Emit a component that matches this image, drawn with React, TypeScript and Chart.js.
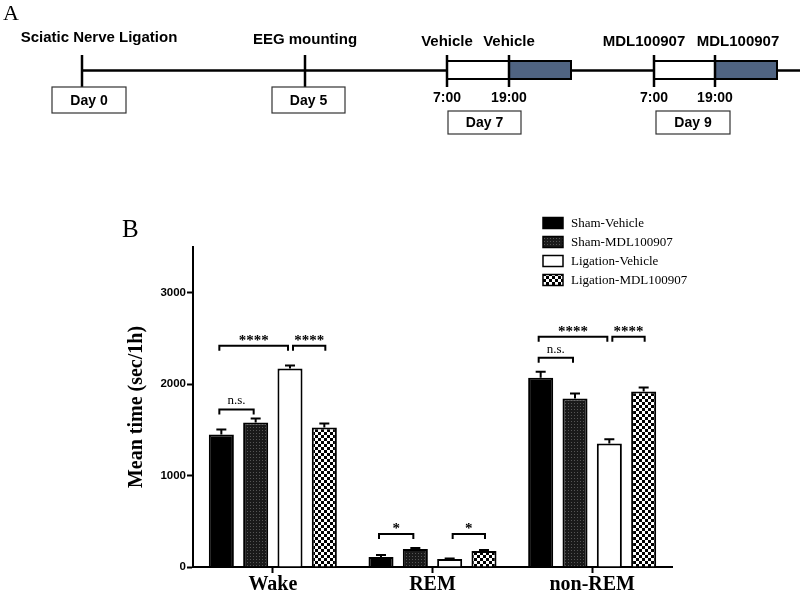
import React, { useEffect, useRef } from "react";
import { Chart, registerables } from "chart.js";

Chart.register(...registerables);

const categories = ["Wake", "REM", "non-REM"];
const seriesNames = ["Sham-Vehicle", "Sham-MDL100907", "Ligation-Vehicle", "Ligation-MDL100907"];
const shamVehicle = [1450, 110, 2070];
const shamMDL = [1580, 196, 1843];
const ligVehicle = [2170, 87, 1352];
const ligMDL = [1527, 175, 1919];
const shamVehicleErr = [55, 20, 65];
const shamMDLErr = [45, 11, 54];
const ligVehicleErr = [33, 6, 44];
const ligMDLErr = [43, 10, 44];
const yTicks = [0, 1000, 2000, 3000];

const sigCategory = [0, 0, 0, 1, 1, 2, 2, 2];
const sigFrom = [0, 0, 2, 0, 2, 0, 0, 2];
const sigTo = [1, 2, 3, 1, 3, 1, 2, 3];
const sigLevel = [1723, 2421, 2421, 360, 360, 2290, 2519, 2519];
const sigText = ["n.s.", "****", "****", "*", "*", "n.s.", "****", "****"];

const topLabels = ["Sciatic Nerve Ligation", "EEG mounting", "Vehicle", "Vehicle", "MDL100907", "MDL100907"];
const dayLabels = ["Day 0", "Day 5", "Day 7", "Day 9"];
const timeLabels = ["7:00", "19:00"];

function makePattern(kind: string): CanvasPattern | string {
  const c = document.createElement("canvas");
  const g = c.getContext("2d")!;
  if (kind === "dark") {
    c.width = 3; c.height = 3;
    g.fillStyle = "#1a1a1a"; g.fillRect(0, 0, 3, 3);
    g.fillStyle = "#555"; g.fillRect(1, 1, 1, 1);
  } else {
    c.width = 6; c.height = 6;
    g.fillStyle = "#fff"; g.fillRect(0, 0, 6, 6);
    g.fillStyle = "#000"; g.fillRect(0, 0, 3, 3); g.fillRect(3, 3, 3, 3);
  }
  return g.createPattern(c, "repeat") || "#000";
}

const panelPlugin = {
  id: "panelA",
  afterDraw(chart: any) {
    const ctx: CanvasRenderingContext2D = chart.ctx;
    const y = chart.scales.y;
    const errs = [shamVehicleErr, shamMDLErr, ligVehicleErr, ligMDLErr];
    ctx.save();
    // error bars
    ctx.strokeStyle = "#000";
    ctx.lineWidth = 2;
    chart.data.datasets.forEach((ds: any, i: number) => {
      const meta = chart.getDatasetMeta(i);
      meta.data.forEach((el: any, j: number) => {
        const top = y.getPixelForValue(ds.data[j] + errs[i][j]);
        ctx.beginPath();
        ctx.moveTo(el.x, el.y);
        ctx.lineTo(el.x, top);
        ctx.moveTo(el.x - 5, top);
        ctx.lineTo(el.x + 5, top);
        ctx.stroke();
      });
    });
    // significance brackets
    sigText.forEach((t, k) => {
      const c = sigCategory[k];
      const x1 = chart.getDatasetMeta(sigFrom[k]).data[c].x - 2 + (sigFrom[k] > 0 ? 5 : 0);
      const x2 = chart.getDatasetMeta(sigTo[k]).data[c].x - 2 + (sigTo[k] === 3 ? 3 : 0);
      const yy = y.getPixelForValue(sigLevel[k]);
      ctx.lineWidth = 2;
      ctx.beginPath();
      ctx.moveTo(x1, yy + 5);
      ctx.lineTo(x1, yy);
      ctx.lineTo(x2, yy);
      ctx.lineTo(x2, yy + 5);
      ctx.stroke();
      ctx.fillStyle = "#000";
      ctx.textAlign = "center";
      ctx.textBaseline = "alphabetic";
      if (t === "n.s.") {
        ctx.font = "13px 'Liberation Serif'";
        ctx.fillText(t, (x1 + x2) / 2, yy - 5);
      } else {
        ctx.font = "bold 15px 'Liberation Serif'";
        ctx.fillText(t, (x1 + x2) / 2, yy - 1);
      }
    });
    // legend
    chart.data.datasets.forEach((ds: any, i: number) => {
      const cy = 223 + i * 19;
      ctx.fillStyle = ds.backgroundColor;
      ctx.fillRect(543, cy - 5.5, 20, 11);
      ctx.lineWidth = 1.5;
      ctx.strokeStyle = "#000";
      ctx.strokeRect(543, cy - 5.5, 20, 11);
      ctx.fillStyle = "#000";
      ctx.font = "13px 'Liberation Serif'";
      ctx.textAlign = "left";
      ctx.textBaseline = "middle";
      ctx.fillText(ds.label, 571, cy + 1);
    });
    // panel labels
    ctx.textAlign = "left";
    ctx.textBaseline = "alphabetic";
    ctx.font = "22px 'Liberation Serif'";
    ctx.fillText("A", 3, 20);
    ctx.font = "25px 'Liberation Serif'";
    ctx.fillText("B", 122, 237);

    // Panel A timeline
    ctx.strokeStyle = "#000";
    ctx.lineWidth = 2.5;
    ctx.beginPath();
    ctx.moveTo(82, 70.5); ctx.lineTo(447, 70.5);
    ctx.moveTo(571, 70.5); ctx.lineTo(654, 70.5);
    ctx.moveTo(777, 70.5); ctx.lineTo(800, 70.5);
    ctx.stroke();
    const rects = [[447, 509, 571], [654, 715, 777]];
    rects.forEach(([a, b, c]) => {
      ctx.fillStyle = "#fff";
      ctx.fillRect(a, 61, b - a, 18);
      ctx.fillStyle = "#506482";
      ctx.fillRect(b, 61, c - b, 18);
      ctx.lineWidth = 2;
      ctx.strokeRect(a, 61, c - a, 18);
    });
    ctx.lineWidth = 2.5;
    [82, 305, 447, 509, 654, 715].forEach((tx) => {
      ctx.beginPath();
      ctx.moveTo(tx, 55); ctx.lineTo(tx, 87);
      ctx.stroke();
    });
    const boxes = [[52, 87, 74, 26], [272, 87, 73, 26], [448, 111, 73, 23], [656, 111, 74, 23]];
    ctx.lineWidth = 1.2;
    ctx.strokeStyle = "#333";
    ctx.fillStyle = "#000";
    ctx.font = "bold 14px 'Liberation Sans'";
    ctx.textAlign = "center";
    ctx.textBaseline = "middle";
    boxes.forEach(([bx, by, bw, bh], i) => {
      ctx.strokeRect(bx, by, bw, bh);
      ctx.fillText(dayLabels[i], bx + bw / 2, by + bh / 2 + 1);
    });
    [447, 654].forEach((tx) => ctx.fillText(timeLabels[0], tx, 98));
    [509, 715].forEach((tx) => ctx.fillText(timeLabels[1], tx, 98));
    ctx.font = "bold 15px 'Liberation Sans'";
    const tpos = [[99, 38], [305, 40], [447, 42], [509, 42], [644, 42], [738, 42]];
    topLabels.forEach((t, i) => ctx.fillText(t, tpos[i][0], tpos[i][1]));
    ctx.restore();
  },
};

export default function App() {
  const ref = useRef<HTMLCanvasElement>(null);
  useEffect(() => {
    document.body.style.margin = "0";
    const canvas = ref.current!;
    const colors = ["#000", makePattern("dark"), "#fff", makePattern("check")];
    const values = [shamVehicle, shamMDL, ligVehicle, ligMDL];
    const chart = new Chart(canvas, {
      type: "bar",
      data: {
        labels: categories,
        datasets: seriesNames.map((n, i) => ({
          label: n,
          data: values[i],
          backgroundColor: colors[i] as any,
          borderColor: "#000",
          borderWidth: 2,
          categoryPercentage: 0.86,
          barPercentage: 0.73,
        })),
      },
      options: {
        responsive: false,
        animation: false,
        devicePixelRatio: 1,
        layout: { padding: { top: 247, right: 128, bottom: 0, left: 121 } },
        plugins: { legend: { display: false }, tooltip: { enabled: false } },
        scales: {
          x: {
            grid: { display: true, offset: false, drawOnChartArea: false, drawTicks: true, tickLength: 6, tickWidth: 2, color: "#000" },
            border: { display: true, color: "#000", width: 2 },
            ticks: { color: "#000", padding: 0, font: { family: "'Liberation Serif'", weight: "bold", size: 20 } },
            afterFit: (s: any) => { s.height = 28; },
          },
          y: {
            min: 0,
            max: 3500,
            afterBuildTicks: (s: any) => { s.ticks = yTicks.map((v) => ({ value: v })); },
            grid: { display: true, drawOnChartArea: false, drawTicks: true, tickLength: 6, tickWidth: 2, color: "#000" },
            border: { display: true, color: "#000", width: 2 },
            ticks: {
              color: "#000",
              padding: 1,
              callback: (v: any) => String(v),
              font: { family: "'Liberation Sans'", weight: "bold", size: 11.5 },
            },
            title: { display: true, text: "Mean time (sec/1h)", color: "#000", font: { family: "'Liberation Serif'", weight: "bold", size: 20 } },
            afterFit: (s: any) => { s.width = 72; },
          },
        },
      },
      plugins: [panelPlugin],
    });
    return () => chart.destroy();
  }, []);
  return (
    <div style={{ position: "absolute", left: 0, top: 0, width: 800, height: 595, background: "#fff" }}>
      <canvas ref={ref} width={800} height={595} style={{ display: "block" }} />
    </div>
  );
}
